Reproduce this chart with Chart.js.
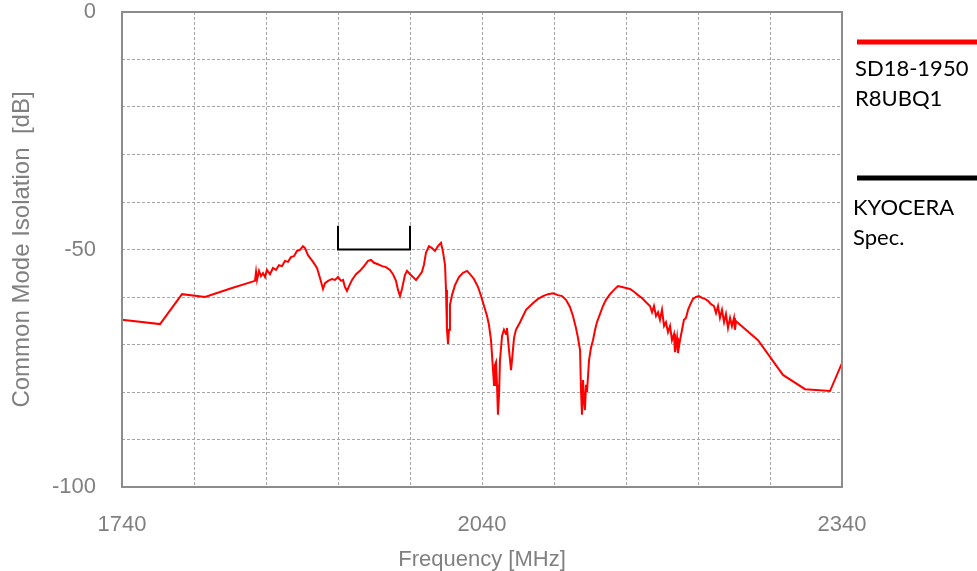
<!DOCTYPE html>
<html>
<head>
<meta charset="utf-8">
<script src="https://cdn.jsdelivr.net/npm/chart.js@4.4.1/dist/chart.umd.min.js"></script>
<style>
  html, body { margin: 0; padding: 0; background: #fff; }
  #wrap { width: 977px; height: 571px; position: relative; }
</style>
</head>
<body>
<div id="wrap"><canvas id="chart"></canvas></div>
<script>
const freqMHz = [
  1740, 1771.7, 1790, 1809.2, 1831.7, 1850.8, 1851.7, 1852.5, 1854.2, 1855.8,
  1857.5, 1859.2, 1860.8, 1863.3, 1865.8, 1868.3, 1870.8, 1873.3, 1875.8, 1878.3,
  1880.8, 1883.3, 1885.8, 1888.3, 1890.8, 1892.5, 1895, 1899.2, 1902.5, 1905,
  1907.5, 1909.2, 1911.7, 1915, 1917.5, 1920, 1922.5, 1924.2, 1925.8, 1927.5,
  1929.2, 1931.7, 1935, 1938.3, 1941.7, 1945, 1947.5, 1950, 1953.3, 1956.7,
  1960, 1963.3, 1965.8, 1968.3, 1970, 1971.7, 1973.3, 1975.8, 1977.5, 1980,
  1982.5, 1985, 1987.5, 1990, 1991.7, 1993.3, 1995.8, 1998.3, 2000.8, 2003.3,
  2005.8, 2007.5, 2009.2, 2010, 2010.8, 2011.7, 2012.5, 2013.3, 2015, 2017.5,
  2020.8, 2024.2, 2027.5, 2030, 2033.3, 2036.7, 2039.2, 2041.7, 2044.2, 2045.8,
  2047.5, 2049.2, 2050, 2050.8, 2051.7, 2052.5, 2053.3, 2054.2, 2055, 2056.7,
  2058.3, 2060, 2060.8, 2062.5, 2064.2, 2065, 2066.7, 2068.3, 2070, 2071.7,
  2074.2, 2076.7, 2080, 2083.3, 2086.7, 2090.8, 2095, 2099.2, 2103.3, 2106.7,
  2110, 2113.3, 2115.8, 2118.3, 2120, 2121.7, 2122.5, 2123.3, 2124.2, 2125,
  2125.8, 2126.7, 2127.5, 2129.2, 2130.8, 2132.5, 2134.2, 2135.8, 2138.3, 2140.8,
  2143.3, 2146.7, 2150, 2153.3, 2156.7, 2160, 2163.3, 2166.7, 2170, 2173.3,
  2176.7, 2180, 2181.7, 2183.3, 2185, 2186.7, 2188.3, 2190, 2191.7, 2193.3,
  2195, 2196.7, 2198.3, 2200, 2200.8, 2202.5, 2203.3, 2205, 2206.7, 2208.3,
  2210, 2211.7, 2213.3, 2215.8, 2218.3, 2220.8, 2223.3, 2225.8, 2228.3, 2230.8,
  2233.3, 2235, 2236.7, 2238.3, 2240, 2241.7, 2243.3, 2245, 2246.7, 2248.3,
  2250, 2250.8, 2251.7, 2270, 2290.8, 2309.2, 2330, 2340
];
const isolationDb = [
  -64.8, -65.7, -59.4, -60.0, -58.1, -56.6, -54.7, -56.4, -54.5, -55.6,
  -55.0, -55.8, -54.3, -55.2, -53.9, -54.3, -53.3, -53.5, -52.4, -52.6,
  -51.6, -51.4, -50.3, -50.1, -49.3, -49.7, -51.2, -52.6, -53.9, -56.0,
  -58.3, -57.1, -56.6, -56.2, -56.4, -55.8, -56.6, -56.4, -57.9, -58.7,
  -57.7, -56.4, -55.2, -54.5, -53.5, -52.4, -52.2, -52.8, -53.1, -53.5,
  -53.7, -54.3, -55.2, -56.6, -58.5, -59.8, -58.3, -55.4, -54.5, -55.2,
  -55.8, -56.4, -55.6, -54.7, -53.1, -50.7, -49.3, -49.7, -50.3, -49.3,
  -48.6, -50.5, -53.3, -58.5, -66.9, -69.9, -66.9, -61.7, -59.6, -57.5,
  -55.8, -54.9, -54.5, -55.2, -56.2, -57.9, -59.8, -61.9, -64.0, -65.9,
  -69.1, -75.4, -78.5, -74.3, -73.7, -78.5, -84.8, -80.6, -73.3, -68.2,
  -66.9, -67.8, -66.5, -71.2, -75.4, -73.3, -68.6, -66.9, -66.1, -65.3,
  -64.0, -62.7, -61.9, -61.1, -60.4, -59.8, -59.4, -59.2, -59.6, -59.8,
  -60.6, -62.1, -64.0, -66.5, -68.6, -71.2, -79.6, -84.8, -77.5, -81.7,
  -83.8, -78.5, -80.0, -73.3, -70.7, -69.1, -66.9, -65.3, -63.6, -61.9,
  -60.6, -59.4, -58.5, -57.7, -57.9, -58.1, -58.3, -58.9, -59.6, -60.2,
  -61.1, -61.9, -63.2, -61.9, -64.0, -63.2, -64.8, -62.7, -66.1, -65.3,
  -67.4, -66.1, -69.1, -67.8, -71.6, -68.6, -71.8, -69.1, -66.9, -64.8,
  -64.4, -62.7, -61.7, -60.4, -60.0, -59.8, -60.2, -60.4, -60.8, -61.5,
  -61.9, -63.4, -61.9, -64.4, -62.7, -65.3, -63.6, -66.5, -64.4, -66.1,
  -64.4, -66.9, -65.1, -69.1, -76.4, -79.4, -79.8, -73.9
];

// KYOCERA spec bracket
const specFreq = [1920, 1920, 1980, 1980];
const specDb = [-45, -50, -50, -45];

const xLabelsShown = [1740, 2040, 2340];
const yLabelsShown = [0, -50, -100];

const seriesLabels = [["SD18-1950", "R8UBQ1"], ["KYOCERA", "Spec."]];

const toPoints = (xs, ys) => xs.map((x, i) => ({ x: x, y: ys[i] }));

// solid frame round the plot area
const frameBox = {
  id: "frameBox",
  afterDraw(chart) {
    const { ctx, chartArea: a } = chart;
    ctx.save();
    ctx.strokeStyle = "#8c8c8c";
    ctx.lineWidth = 2;
    ctx.strokeRect(a.left, a.top, a.right - a.left, a.bottom - a.top);
    ctx.restore();
  }
};

// legend at the right: thick line, label underneath
const sideLegend = {
  id: "sideLegend",
  afterDraw(chart) {
    const ctx = chart.ctx;
    const rows = [{ lineY: 42, textY: 76 }, { lineY: 178, textY: 215 }];
    ctx.save();
    chart.data.datasets.forEach((ds, i) => {
      const r = rows[i];
      ctx.strokeStyle = ds.borderColor;
      ctx.lineWidth = 5;
      ctx.beginPath();
      ctx.moveTo(857, r.lineY);
      ctx.lineTo(977, r.lineY);
      ctx.stroke();
      ctx.fillStyle = "#000";
      ctx.font = "22px Lato";
      ctx.textBaseline = "alphabetic";
      ds.label.forEach((t, k) => {
        ctx.fillText(t, i === 0 ? 855 : 853, r.textY + k * 30);
      });
    });
    ctx.restore();
  }
};

const gridStyle = { color: "#a6a6a6", lineWidth: 1, drawTicks: false };
const axisFont = { family: "Liberation Sans", size: 22 };

new Chart(document.getElementById("chart"), {
  type: "scatter",
  data: {
    datasets: [
      {
        label: seriesLabels[0],
        data: toPoints(freqMHz, isolationDb),
        showLine: true,
        borderColor: "#ff0000",
        borderWidth: 2,
        pointRadius: 0,
        tension: 0
      },
      {
        label: seriesLabels[1],
        data: toPoints(specFreq, specDb),
        showLine: true,
        borderColor: "#000000",
        borderWidth: 2,
        pointRadius: 0,
        tension: 0
      }
    ]
  },
  options: {
    responsive: true,
    maintainAspectRatio: false,
    animation: false,
    layout: { padding: { top: 12, right: 135, left: 0, bottom: 0 } },
    plugins: { legend: { display: false }, tooltip: { enabled: false } },
    scales: {
      x: {
        type: "linear",
        min: 1740,
        max: 2340,
        border: { display: false, dash: [3, 2] },
        grid: gridStyle,
        ticks: {
          stepSize: 60,
          padding: 25,
          color: "#808080",
          font: axisFont,
          maxRotation: 0,
          autoSkip: false,
          callback: v => (xLabelsShown.includes(v) ? String(v) : "")
        },
        title: {
          display: true,
          text: "Frequency [MHz]",
          color: "#808080",
          font: { family: "Liberation Sans", size: 22, lineHeight: 1 },
          padding: { top: 10, bottom: 0 }
        },
        // fixed band height, no extra side padding from the labels
        afterFit(scale) {
          scale.height = 84;
          scale.paddingLeft = 0;
          scale.paddingRight = 0;
        }
      },
      y: {
        min: -100,
        max: 0,
        border: { display: false, dash: [3, 2] },
        grid: gridStyle,
        ticks: {
          stepSize: 10,
          padding: 26,
          color: "#808080",
          font: axisFont,
          autoSkip: false,
          callback: v => (yLabelsShown.includes(v) ? String(v) : "")
        },
        title: {
          display: true,
          text: "Common Mode Isolation  [dB]",
          color: "#808080",
          font: { family: "Liberation Sans", size: 24 },
          padding: { top: 8, bottom: 10 }
        },
        afterFit(scale) {
          scale.width = 122;
          scale.paddingTop = 0;
          scale.paddingBottom = 0;
        }
      }
    }
  },
  plugins: [frameBox, sideLegend]
});
</script>
</body>
</html>
